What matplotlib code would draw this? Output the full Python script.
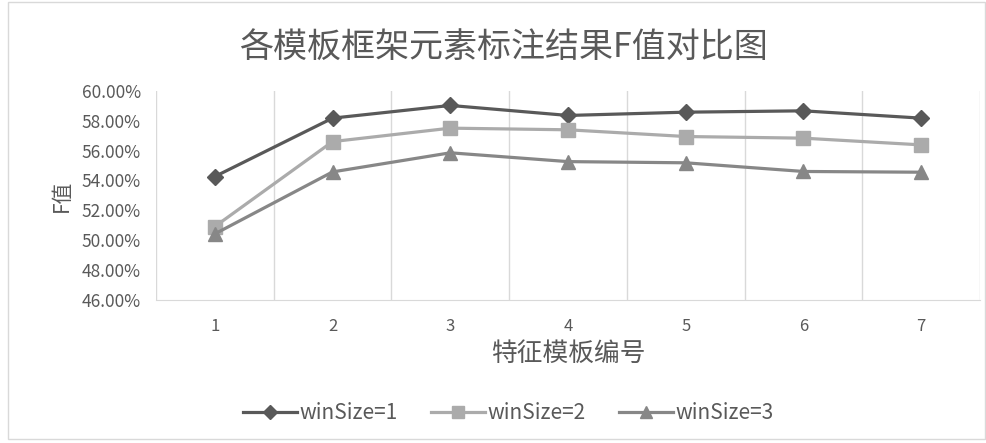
import matplotlib
matplotlib.use('Agg')
import matplotlib.pyplot as plt
from matplotlib.patches import Rectangle
from matplotlib.ticker import FuncFormatter

plt.rcParams['font.family'] = ['Noto Sans CJK SC', 'DejaVu Sans']

# data
templates = [1, 2, 3, 4, 5, 6, 7]
win1 = [54.26, 58.17, 59.02, 58.35, 58.57, 58.66, 58.17]
win2 = [50.91, 56.60, 57.50, 57.39, 56.94, 56.83, 56.38]
win3 = [50.42, 54.57, 55.85, 55.26, 55.18, 54.60, 54.55]
series_names = ['winSize=1', 'winSize=2', 'winSize=3']

text_col = '#595959'

fig = plt.figure(figsize=(9.87, 4.43), dpi=100)
ax = fig.add_axes([0.158, 0.323, 0.835, 0.472])

#outer chart border
fig.patches.append(Rectangle((0.008, 0.01), 0.99, 0.985, transform=fig.transFigure,
                             fill=False, edgecolor='#D9D9D9', linewidth=1))

ax.plot(templates, win1, color='#595959', lw=2.3, marker='D', ms=8, label=series_names[0])
ax.plot(templates, win2, color='#ABABAB', lw=2.3, marker='s', ms=10, label=series_names[1])
ax.plot(templates, win3, color='#878787', lw=2.3, marker='^', ms=10, label=series_names[2])

ax.set_xlim(0.5, 7.5)
ax.set_ylim(46, 60)
ax.set_yticks(range(46, 61, 2))
ax.yaxis.set_major_formatter(FuncFormatter(lambda v, p: '%.2f%%' % v))
ax.set_xticks(templates)
ax.set_xticks([i + 0.5 for i in range(0, 8)], minor=True)
ax.grid(True, which='minor', axis='x', color='#D9D9D9', lw=1)
ax.tick_params(which='both', length=0)
ax.tick_params(axis='y', labelsize=12.5, colors=text_col, pad=11)
ax.tick_params(axis='x', labelsize=12, colors=text_col, pad=13)

for s in ['top', 'right', 'left']:
    ax.spines[s].set_visible(False)
ax.spines['bottom'].set_color('#D9D9D9')

ax.set_xlabel('特征模板编号', fontsize=18.5, color=text_col, labelpad=4)
ax.set_ylabel('F值', fontsize=15, color=text_col, labelpad=6)
fig.text(0.51, 0.893, '各模板框架元素标注结果F值对比图', ha='center', va='center',
         fontsize=24.5, color=text_col)

fig.legend(loc='center', bbox_to_anchor=(0.515, 0.068), ncol=3, frameon=False,
           fontsize=15, labelcolor=text_col, handlelength=2.6, handletextpad=0.1,
           columnspacing=1.6, markerscale=0.85)

fig.savefig('out.png', dpi=100)
